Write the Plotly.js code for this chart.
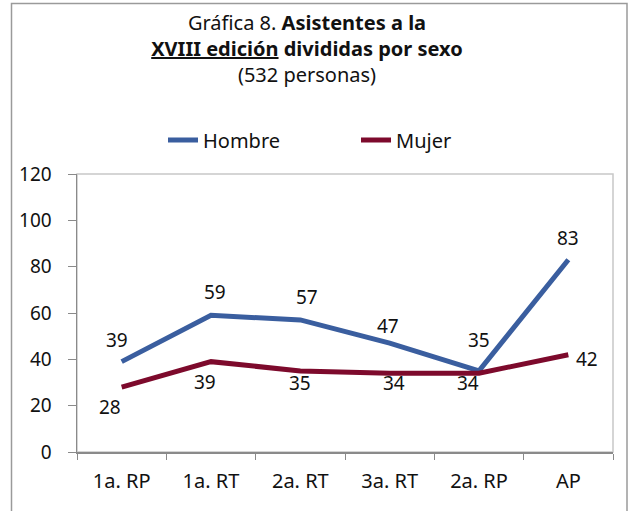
<!DOCTYPE html>
<html><head><meta charset="utf-8">
<script src="https://cdn.plot.ly/plotly-3.0.1.min.js"></script>
<style>body{margin:0;background:#fff}#c{width:631px;height:511px}</style>
</head><body><div id="c"></div>
<script>
const categories = ["1a. RP", "1a. RT", "2a. RT", "3a. RT", "2a. RP", "AP"];
const hombre = [39, 59, 57, 47, 35, 83];
const mujer = [28, 39, 35, 34, 34, 42];
// label offsets (px) - styling only
const hombreShift = [[-5, 22], [4, 23], [7, 23], [-2, 17], [0, 31], [0, 22]];
const mujerShift = [[-12, -20], [-6, -20], [0, -12], [4, -10], [-11, -10], [19, -4]];

const F = "'Noto Sans', 'DejaVu Sans', sans-serif";
const traces = [
  {x: categories, y: hombre, name: "Hombre", type: "scatter", mode: "lines",
   line: {color: "#3A5E9F", width: 5}, cliponaxis: false},
  {x: categories, y: mujer, name: "Mujer", type: "scatter", mode: "lines",
   line: {color: "#7D0A2C", width: 5}, cliponaxis: false}
];
const annotations = [];
[[hombre, hombreShift], [mujer, mujerShift]].forEach(([vals, sh]) => {
  vals.forEach((v, j) => annotations.push({x: categories[j], y: v, xref: "x", yref: "y",
    text: String(v), showarrow: false, xanchor: "center", yanchor: "middle",
    xshift: sh[j][0], yshift: sh[j][1], font: {family: F, size: 19, color: "#111"}}));
});
const L = 77, R = 613, T = 174, B = 452, W = 631, H = 511;
const pw = R - L, ph = B - T;
const px = v => (v - L) / pw, py = v => (B - v) / ph;
const layout = {
  width: W, height: H,
  margin: {l: L, r: W - R, t: T, b: H - B},
  paper_bgcolor: "#fff", plot_bgcolor: "#fff",
  font: {family: F, color: "#111", size: 19},
  title: {text: "Gráfica 8. <b>Asistentes a la</b><br><b><span style='text-decoration:underline'>XVIII edición</span> divididas por sexo</b><br>(532 personas)",
    x: 307 / W, xanchor: "center", xref: "container", y: 1 - 30 / H, yref: "container", yanchor: "middle",
    font: {family: F, size: 20, color: "#111"}},
  showlegend: true,
  legend: {orientation: "h", x: px(163), xanchor: "left", y: py(140), yanchor: "middle",
    font: {family: F, size: 20, color: "#111"}, entrywidth: 148, entrywidthmode: "pixels", tracegroupgap: 0},
  xaxis: {type: "category", range: [-0.5, 5.5], showgrid: false, zeroline: false,
    showline: true, linecolor: "#8A8A8A", linewidth: 1.5, ticks: "outside", ticklen: 6, tickcolor: "#8A8A8A",
    tickson: "boundaries", ticklabelstandoff: 10, tickfont: {family: F, size: 20, color: "#111"}, fixedrange: true},
  yaxis: {range: [0, 120], dtick: 20, showgrid: false, zeroline: false,
    showline: true, linecolor: "#8A8A8A", linewidth: 1.5, ticks: "outside", ticklen: 8, tickcolor: "#8A8A8A",
    ticklabelstandoff: 12, tickfont: {family: F, size: 19, color: "#111"}, fixedrange: true},
  annotations: annotations,
  shapes: [
    {type: "rect", xref: "paper", yref: "paper", x0: 0, x1: 1, y0: 0, y1: 1,
     line: {color: "#C8C8C8", width: 1.5}, layer: "below"},
    {type: "rect", xref: "paper", yref: "paper", x0: px(11.5), x1: px(627), y0: py(540), y1: py(3.5),
     line: {color: "#9A9A9A", width: 1.5}}
  ]
};
Plotly.newPlot("c", traces, layout, {displayModeBar: false, staticPlot: true});
</script></body></html>
